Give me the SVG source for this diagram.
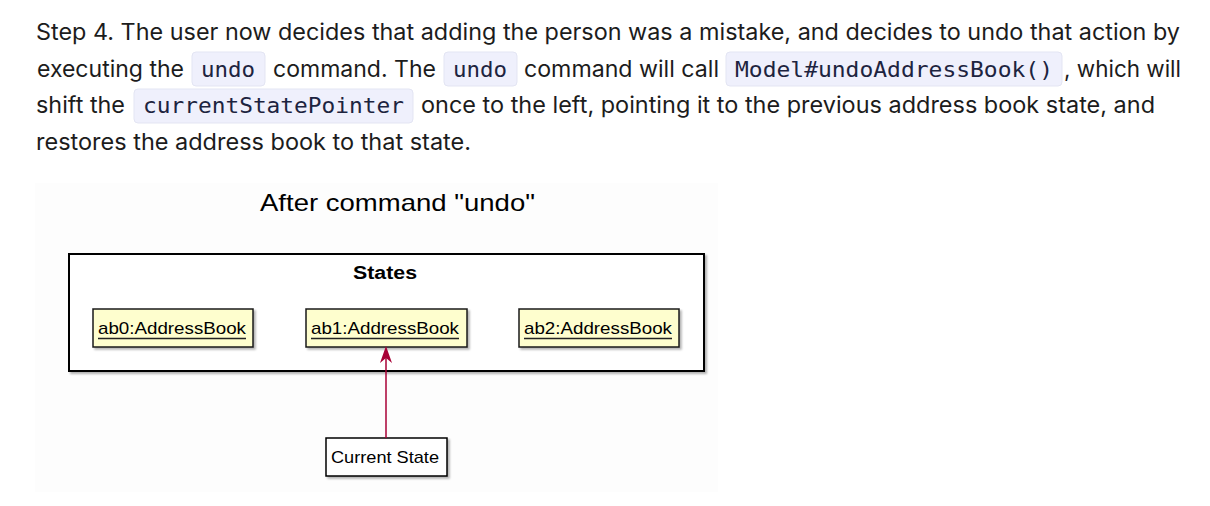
<svg xmlns="http://www.w3.org/2000/svg" width="1210" height="506" viewBox="0 0 1210 506">
<defs>
<style>
.body{font-family:Inter,"Noto Sans","Liberation Sans",sans-serif;font-size:22.5px;fill:#1c1c1c}
.code{font-family:"DejaVu Sans Mono","Liberation Mono",monospace;font-size:22px;fill:#1d2440}
.cbox{fill:#eff0fc;stroke:#e3e5f3;stroke-width:1}
.uml{font-family:"Liberation Sans",Arial,sans-serif;fill:#000}
.obj{fill:#FEFECE;stroke:#181818;stroke-width:1.5}
.ul{stroke:#222;stroke-width:1.3}
</style>
<marker id="ah" viewBox="-18 -8 20 16" refX="0" refY="0" markerWidth="20" markerHeight="16" markerUnits="userSpaceOnUse" orient="auto" overflow="visible">
<path d="M0,0 L-17,-6 L-12,0 L-17,6 Z" fill="#A80036"/>
</marker>
<filter id="sh" x="-5%" y="-5%" width="115%" height="120%">
<feGaussianBlur in="SourceAlpha" stdDeviation="1"/>
<feOffset dx="2" dy="2"/>
<feComponentTransfer><feFuncA type="linear" slope="0.3"/></feComponentTransfer>
<feMerge><feMergeNode/><feMergeNode in="SourceGraphic"/></feMerge>
</filter>
</defs>
<rect width="1210" height="506" fill="#ffffff"/>

<g id="paragraph">
<text class="body" x="36" y="40" textLength="1144" lengthAdjust="spacingAndGlyphs">Step 4. The user now decides that adding the person was a mistake, and decides to undo that action by</text>
<text class="body" x="37" y="77" textLength="147" lengthAdjust="spacingAndGlyphs">executing the</text>
<rect class="cbox" x="192" y="52" width="73" height="34" rx="4"/>
<text class="code" x="201" y="77" textLength="54" lengthAdjust="spacingAndGlyphs">undo</text>
<text class="body" x="273" y="77" textLength="163" lengthAdjust="spacingAndGlyphs">command. The</text>
<rect class="cbox" x="444" y="52" width="73" height="34" rx="4"/>
<text class="code" x="453" y="77" textLength="54" lengthAdjust="spacingAndGlyphs">undo</text>
<text class="body" x="524" y="77" textLength="195" lengthAdjust="spacingAndGlyphs">command will call</text>
<rect class="cbox" x="726" y="52" width="336" height="34" rx="4"/>
<text class="code" x="735" y="77" textLength="318" lengthAdjust="spacingAndGlyphs">Model#undoAddressBook()</text>
<text class="body" x="1064" y="77" textLength="117" lengthAdjust="spacingAndGlyphs">, which will</text>
<text class="body" x="36" y="113" textLength="89" lengthAdjust="spacingAndGlyphs">shift the</text>
<rect class="cbox" x="134" y="89" width="279" height="34" rx="4"/>
<text class="code" x="143" y="113" textLength="261" lengthAdjust="spacingAndGlyphs">currentStatePointer</text>
<text class="body" x="421" y="113" textLength="734" lengthAdjust="spacingAndGlyphs">once to the left, pointing it to the previous address book state, and</text>
<text class="body" x="36" y="150" textLength="435" lengthAdjust="spacingAndGlyphs">restores the address book to that state.</text>
</g>

<g id="diagram">
<rect x="35" y="183" width="683" height="309" fill="#fdfdfd"/>
<text class="uml" x="260" y="211" font-size="24" textLength="275" lengthAdjust="spacingAndGlyphs">After command "undo"</text>

<g id="States">
<rect x="69" y="254" width="635" height="117" fill="#ffffff" stroke="#000" stroke-width="2" filter="url(#sh)"/>
<text class="uml" x="353" y="279" font-size="18" font-weight="bold" textLength="64" lengthAdjust="spacingAndGlyphs">States</text>
</g>

<g id="ab0">
<rect class="obj" x="93" y="309" width="160" height="38" filter="url(#sh)"/>
<text class="uml" x="98" y="334" font-size="17" textLength="148" lengthAdjust="spacingAndGlyphs">ab0:AddressBook</text>
<line class="ul" x1="98" y1="338.5" x2="246" y2="338.5"/>
</g>

<g id="ab1">
<rect class="obj" x="306" y="309" width="161" height="38" filter="url(#sh)"/>
<text class="uml" x="311" y="334" font-size="17" textLength="148" lengthAdjust="spacingAndGlyphs">ab1:AddressBook</text>
<line class="ul" x1="311" y1="338.5" x2="459" y2="338.5"/>
</g>

<g id="ab2">
<rect class="obj" x="519" y="309" width="160" height="38" filter="url(#sh)"/>
<text class="uml" x="524" y="334" font-size="17" textLength="148" lengthAdjust="spacingAndGlyphs">ab2:AddressBook</text>
<line class="ul" x1="524" y1="338.5" x2="672" y2="338.5"/>
</g>

<g id="CurrentState">
<rect x="326" y="438" width="121" height="38" fill="#ffffff" stroke="#000" stroke-width="1.5" filter="url(#sh)"/>
<text class="uml" x="331" y="463" font-size="17" textLength="108" lengthAdjust="spacingAndGlyphs">Current State</text>
</g>
</g>

<g id="connectors">
<line x1="386" y1="438" x2="386" y2="349" stroke="#A80036" stroke-width="1.5"/>
<path d="M386,346 L380,363 L386,358 L392,363 Z" fill="#A80036"/>
</g>
</svg>
